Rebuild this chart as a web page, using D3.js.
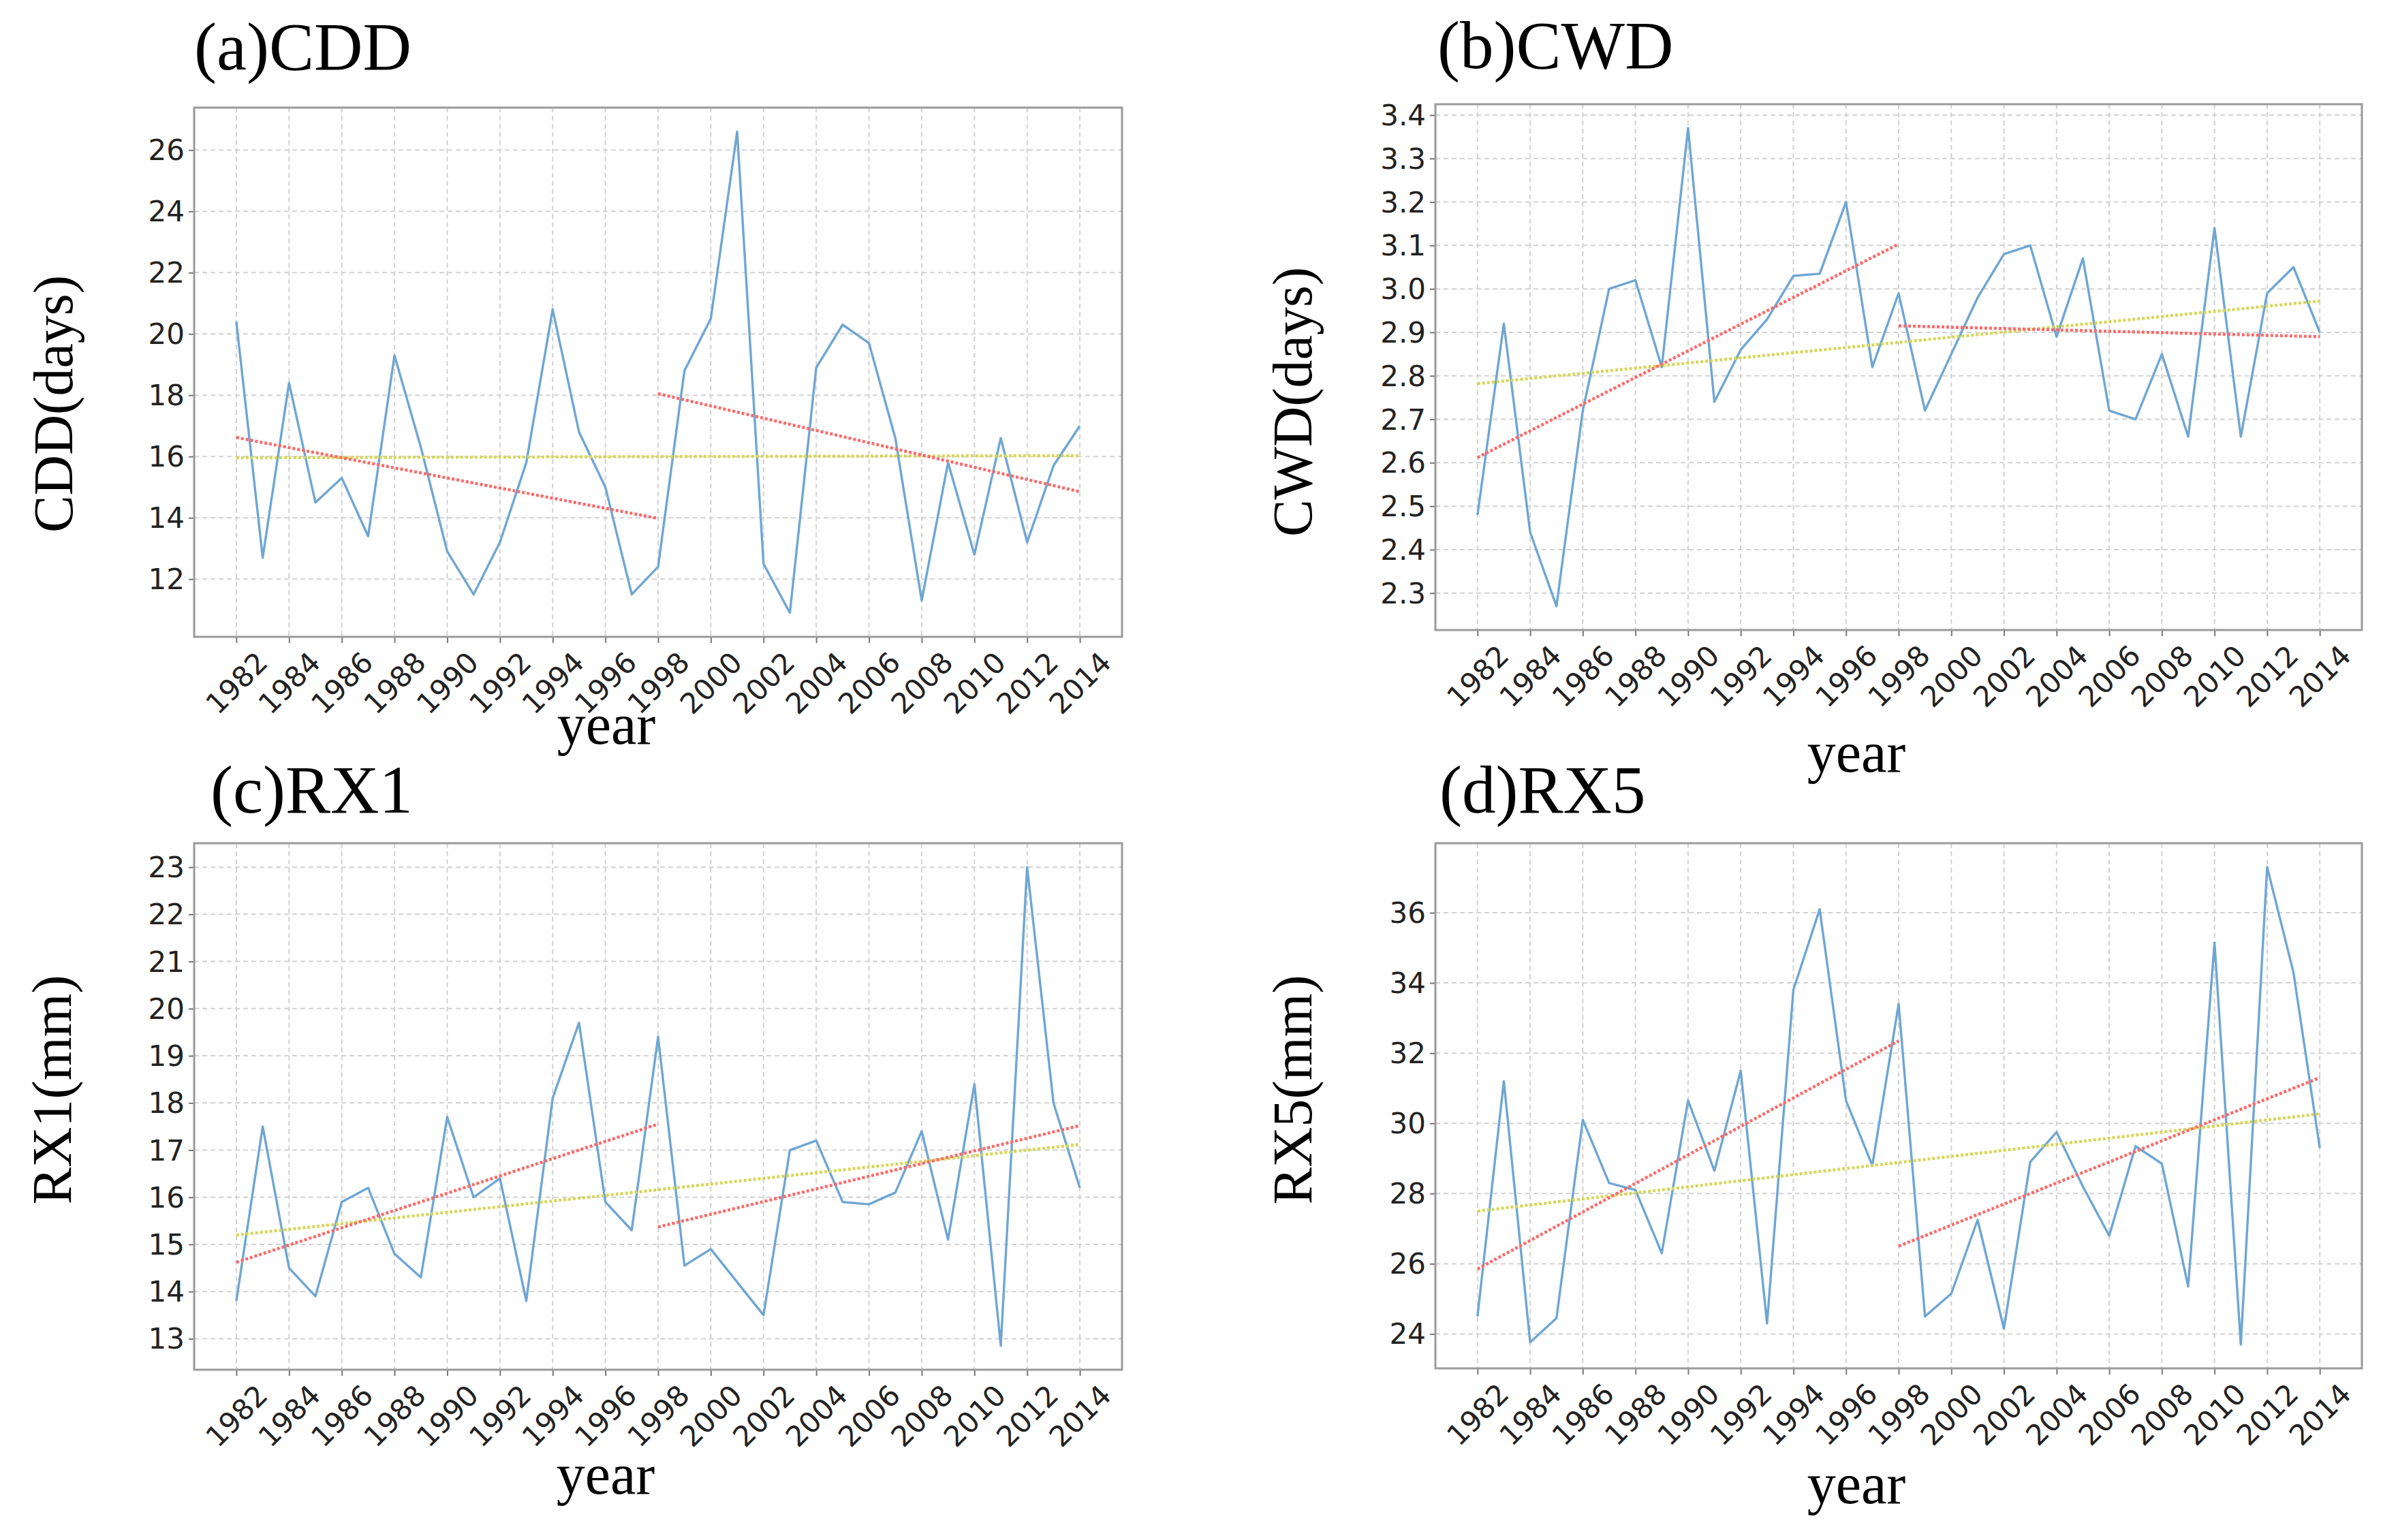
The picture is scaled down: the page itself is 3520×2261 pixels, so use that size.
<!DOCTYPE html>
<html><head><meta charset="utf-8">
<script src="https://cdn.jsdelivr.net/npm/d3@7/dist/d3.min.js"></script>
<style>body{margin:0;background:#fff}</style>
</head><body>
<svg id="chart" width="3520" height="2261"></svg>
<script>
// ---------------- DATA ----------------
const years = [1982,1983,1984,1985,1986,1987,1988,1989,1990,1991,1992,1993,1994,1995,1996,1997,1998,
               1999,2000,2001,2002,2003,2004,2005,2006,2007,2008,2009,2010,2011,2012,2013,2014];
const yearTicks = [1982,1984,1986,1988,1990,1992,1994,1996,1998,2000,2002,2004,2006,2008,2010,2012,2014];

const cddValues = [20.4,12.7,18.4,14.5,15.3,13.4,19.3,16.3,12.9,11.5,13.2,15.8,20.8,16.8,15.0,11.5,12.4,
                   18.8,20.5,26.6,12.5,10.9,18.9,20.3,19.7,16.6,11.3,15.8,12.8,16.6,13.2,15.7,17.0];
const cwdValues = [2.48,2.92,2.44,2.27,2.72,3.00,3.02,2.82,3.37,2.74,2.86,2.93,3.03,3.035,3.20,2.82,2.99,
                   2.72,2.85,2.98,3.08,3.10,2.89,3.07,2.72,2.70,2.85,2.66,3.14,2.66,2.99,3.05,2.90];
const rx1Values = [13.8,17.5,14.5,13.9,15.9,16.2,14.8,14.3,17.7,16.0,16.4,13.8,18.1,19.7,15.9,15.3,19.4,
                   14.55,14.9,14.2,13.5,17.0,17.2,15.9,15.85,16.1,17.4,15.1,18.4,12.85,23.0,18.0,16.2];
const rx5Values = [24.5,31.2,23.76,24.45,30.1,28.3,28.1,26.3,30.65,28.65,31.5,24.3,33.8,36.1,30.65,28.8,33.4,
                   24.5,25.15,27.25,24.15,28.9,29.75,28.2,26.8,29.35,28.85,25.35,35.15,23.7,37.3,34.3,29.3];

// trend line end points [year, value]
const cddTrendEarly = [[1982,16.62],[1998,13.98]];
const cddTrendLate  = [[1998,18.05],[2014,14.85]];
const cddTrendAll   = [[1982,15.96],[2014,16.03]];
const cwdTrendEarly = [[1982,2.612],[1998,3.103]];
const cwdTrendLate  = [[1998,2.915],[2014,2.89]];
const cwdTrendAll   = [[1982,2.782],[2014,2.972]];
const rx1TrendEarly = [[1982,14.62],[1998,17.55]];
const rx1TrendLate  = [[1998,15.37],[2014,17.52]];
const rx1TrendAll   = [[1982,15.2],[2014,17.12]];
const rx5TrendEarly = [[1982,25.85],[1998,32.35]];
const rx5TrendLate  = [[1998,26.5],[2014,31.3]];
const rx5TrendAll   = [[1982,27.5],[2014,30.27]];

const cddTicks = [12,14,16,18,20,22,24,26];
const cwdTicks = [2.3,2.4,2.5,2.6,2.7,2.8,2.9,3.0,3.1,3.2,3.3,3.4];
const rx1Ticks = [13,14,15,16,17,18,19,20,21,22,23];
const rx5Ticks = [24,26,28,30,32,34,36];

const titles  = ["(a)CDD","(b)CWD","(c)RX1","(d)RX5"];
const yLabels = ["CDD(days)","CWD(days)","RX1(mm)","RX5(mm)"];
const xLabel  = "year";

// ---------------- LAYOUT ----------------
const panels = [
  {values:cddValues, tr:[cddTrendEarly,cddTrendLate], all:cddTrendAll, ticks:cddTicks, fmt:d3.format("d"),
   x0:285,x1:1647,y0:158,y1:935, tx:285,ty:102, lx:78,ly:593, yx:890,yy:1092},
  {values:cwdValues, tr:[cwdTrendEarly,cwdTrendLate], all:cwdTrendAll, ticks:cwdTicks, fmt:d3.format(".1f"),
   x0:2107,x1:3467,y0:153,y1:925, tx:2110,ty:100, lx:1897,ly:590, yx:2725,yy:1133},
  {values:rx1Values, tr:[rx1TrendEarly,rx1TrendLate], all:rx1TrendAll, ticks:rx1Ticks, fmt:d3.format("d"),
   x0:285,x1:1647,y0:1238,y1:2011, tx:309,ty:1193, lx:76,ly:1600, yx:889,yy:2193},
  {values:rx5Values, tr:[rx5TrendEarly,rx5TrendLate], all:rx5TrendAll, ticks:rx5Ticks, fmt:d3.format("d"),
   x0:2107,x1:3467,y0:1238,y1:2009, tx:2113,ty:1193, lx:1897,ly:1600, yx:2725,yy:2207}
];

const svg = d3.select("#chart");
svg.append("rect").attr("width",3520).attr("height",2261).attr("fill","#fff");
const serif = "'Liberation Serif','Times New Roman',serif";
const sans = "'DejaVu Sans',sans-serif";

panels.forEach((p,i) => {
  const ext = d3.extent(p.values);
  const pad = (ext[1]-ext[0])*0.05;
  const x = d3.scaleLinear().domain([years[0]-1.6, years[years.length-1]+1.6]).range([p.x0,p.x1]);
  const y = d3.scaleLinear().domain([ext[0]-pad, ext[1]+pad]).range([p.y1,p.y0]);
  const g = svg.append("g");

  // grid
  g.selectAll(".vg").data(yearTicks).enter().append("line")
    .attr("x1",d=>x(d)).attr("x2",d=>x(d)).attr("y1",p.y0).attr("y2",p.y1)
    .attr("stroke","#d2d2d2").attr("stroke-width",2).attr("stroke-dasharray","7,5");
  g.selectAll(".hg").data(p.ticks).enter().append("line")
    .attr("x1",p.x0).attr("x2",p.x1).attr("y1",d=>y(d)).attr("y2",d=>y(d))
    .attr("stroke","#d2d2d2").attr("stroke-width",2).attr("stroke-dasharray","7,5");

  // axes
  const xa = g.append("g").attr("transform",`translate(0,${p.y1})`)
    .call(d3.axisBottom(x).tickValues(yearTicks).tickFormat(d3.format("d")).tickSize(9));
  xa.select(".domain").remove();
  xa.selectAll(".tick line").attr("stroke","#777").attr("stroke-width",2);
  xa.selectAll(".tick text")
    .attr("font-family",sans).attr("font-size",42).attr("fill","#222")
    .attr("text-anchor","middle").attr("dominant-baseline","central")
    .attr("y",68).attr("dy",null).attr("transform","rotate(-45,0,68)");

  const ya = g.append("g").attr("transform",`translate(${p.x0},0)`)
    .call(d3.axisLeft(y).tickValues(p.ticks).tickFormat(p.fmt).tickSize(8).tickPadding(6));
  ya.select(".domain").remove();
  ya.selectAll(".tick line").attr("stroke","#777").attr("stroke-width",2);
  ya.selectAll(".tick text").attr("font-family",sans).attr("font-size",42).attr("fill","#222")
    .attr("dominant-baseline","central").attr("dy",null);

  // data line
  const line = d3.line().x((d,j)=>x(years[j])).y(d=>y(d));
  g.append("path").datum(p.values).attr("d",line)
    .attr("fill","none").attr("stroke","#6ea6d3").attr("stroke-width",3.4).attr("stroke-linejoin","round");

  // trend lines
  const tl = d3.line().x(d=>x(d[0])).y(d=>y(d[1]));
  g.append("path").datum(p.all).attr("d",tl).attr("fill","none")
    .attr("stroke","#d6d758").attr("stroke-width",4.5).attr("stroke-dasharray","4,3");
  p.tr.forEach(t => g.append("path").datum(t).attr("d",tl).attr("fill","none")
    .attr("stroke","#ff6868").attr("stroke-width",4.5).attr("stroke-dasharray","4,3"));

  // frame
  g.append("rect").attr("x",p.x0).attr("y",p.y0).attr("width",p.x1-p.x0).attr("height",p.y1-p.y0)
    .attr("fill","none").attr("stroke","#9a9a9a").attr("stroke-width",3);

  // texts
  svg.append("text").attr("x",p.tx).attr("y",p.ty).text(titles[i])
    .attr("font-family",serif).attr("font-size",99).attr("fill","#000");
  svg.append("text").attr("transform",`translate(${p.lx},${p.ly}) rotate(-90)`)
    .attr("text-anchor","middle").attr("dominant-baseline","central").text(yLabels[i])
    .attr("font-family",serif).attr("font-size",82).attr("fill","#000");
  svg.append("text").attr("x",p.yx).attr("y",p.yy).attr("text-anchor","middle").text(xLabel)
    .attr("font-family",serif).attr("font-size",84).attr("fill","#000");
});
</script>
</body></html>
